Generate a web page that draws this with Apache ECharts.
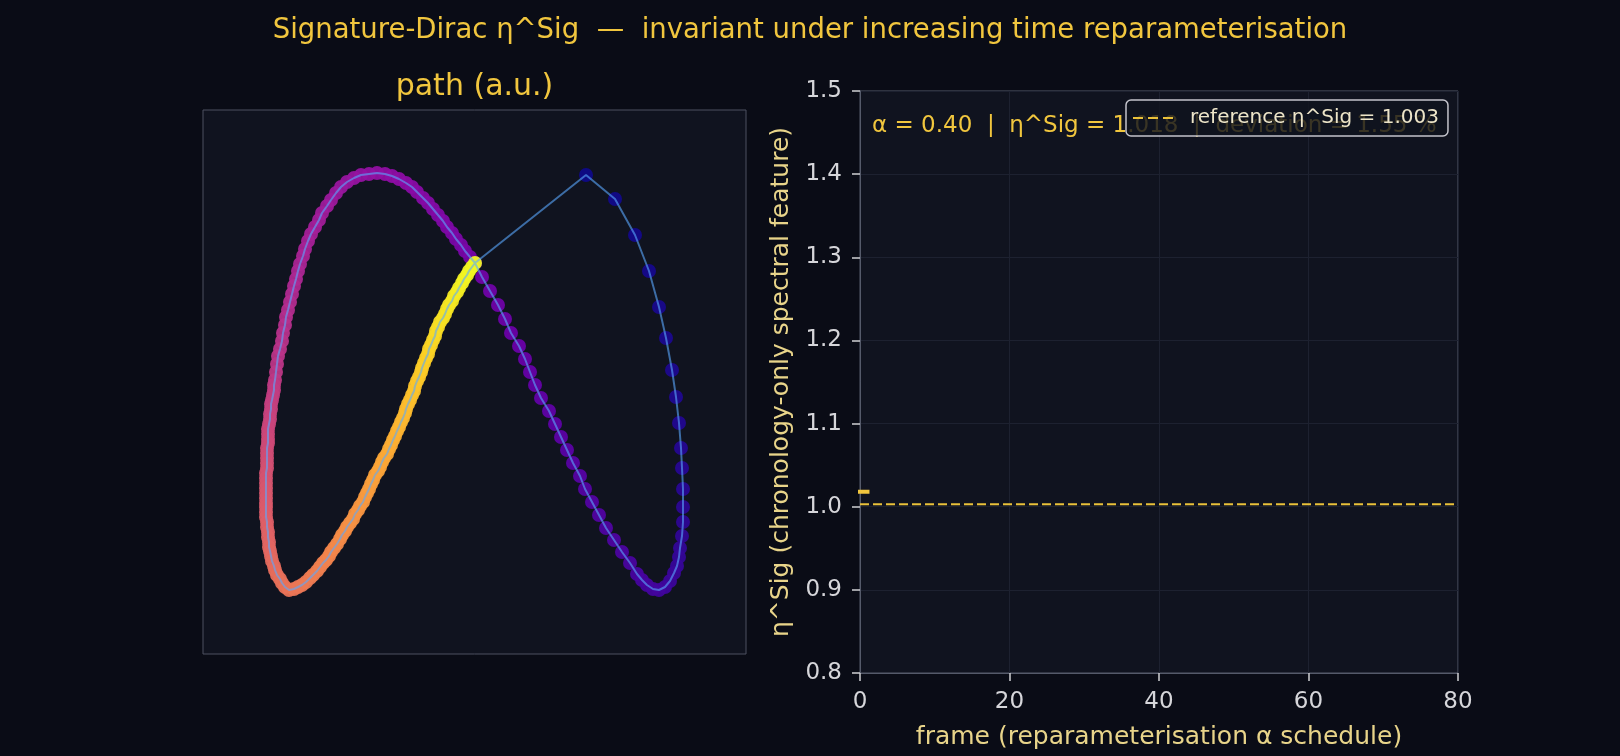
<!DOCTYPE html>
<html>
<head>
<meta charset="utf-8">
<title>Signature-Dirac η^Sig</title>
<script src="https://cdn.jsdelivr.net/npm/echarts@6/dist/echarts.min.js"></script>
<style>
html, body { margin: 0; padding: 0; background: #0a0c16; }
#chart { width: 1620px; height: 756px; }
</style>
</head>
<body>
<div id="chart"></div>
<script>
// path samples (a.u.), in sample order; colour = sample index
var sparseStart = [[0.00,1.19],[1.11,2.07],[1.40,1.83],[1.60,1.47],[1.74,1.11],[1.84,0.75],[1.91,0.44],[1.97,0.12],[2.01,-0.15],[2.04,-0.41],[2.06,-0.66],[2.07,-0.86],[2.08,-1.07],[2.08,-1.25],[2.08,-1.40],[2.07,-1.54],[2.05,-1.66],[2.04,-1.75],[2.02,-1.84]];
var loopRight = [[1.99,-1.91],[1.95,-1.99],[1.90,-2.05],[1.84,-2.08],[1.78,-2.07],[1.72,-2.03],[1.67,-1.98],[1.62,-1.92]];
var diagDown = [[1.55,-1.81],[1.47,-1.70],[1.39,-1.58],[1.31,-1.46],[1.24,-1.33],[1.17,-1.20],[1.10,-1.07],[1.05,-0.94],[0.98,-0.81],[0.92,-0.68],[0.86,-0.55],[0.80,-0.42],[0.74,-0.29],[0.66,-0.16],[0.60,-0.03],[0.55,0.10],[0.50,0.23],[0.44,0.36],[0.36,0.49],[0.30,0.63],[0.23,0.77],[0.15,0.91],[0.07,1.05],[0.00,1.19]];
var arcTop = [[-0.05,1.25],[-0.10,1.31],[-0.14,1.37],[-0.19,1.43],[-0.23,1.49],[-0.28,1.55],[-0.32,1.61],[-0.37,1.67],[-0.42,1.73],[-0.47,1.79],[-0.52,1.84],[-0.58,1.90],[-0.63,1.95],[-0.69,1.99],[-0.76,2.03],[-0.83,2.06],[-0.90,2.08],[-0.98,2.09]];
var arcLeft = [[-1.06,2.08],[-1.14,2.07],[-1.21,2.04],[-1.28,2.00],[-1.34,1.95],[-1.39,1.89],[-1.44,1.82],[-1.48,1.76],[-1.53,1.69],[-1.56,1.62],[-1.60,1.55],[-1.64,1.48],[-1.67,1.41],[-1.70,1.33],[-1.72,1.26],[-1.75,1.18],[-1.77,1.11],[-1.79,1.03],[-1.81,0.96],[-1.83,0.88],[-1.85,0.80],[-1.87,0.72],[-1.89,0.65],[-1.90,0.57],[-1.92,0.49],[-1.93,0.41],[-1.95,0.33],[-1.97,0.26],[-1.98,0.18],[-1.99,0.10],[-2.00,0.02]];
var sideLeft = [[-2.01,-0.03],[-2.01,-0.08],[-2.02,-0.13],[-2.03,-0.18],[-2.04,-0.22],[-2.04,-0.27],[-2.05,-0.32],[-2.05,-0.37],[-2.06,-0.42],[-2.07,-0.47],[-2.07,-0.52],[-2.07,-0.57],[-2.07,-0.61],[-2.08,-0.66],[-2.08,-0.71],[-2.08,-0.76],[-2.08,-0.81],[-2.08,-0.86],[-2.09,-0.91],[-2.09,-0.96],[-2.09,-1.01],[-2.09,-1.06],[-2.09,-1.11],[-2.09,-1.16],[-2.09,-1.21],[-2.09,-1.25],[-2.09,-1.30],[-2.09,-1.35],[-2.08,-1.40],[-2.08,-1.45],[-2.07,-1.50],[-2.07,-1.55],[-2.06,-1.60],[-2.06,-1.65],[-2.05,-1.69],[-2.04,-1.74],[-2.03,-1.79],[-2.01,-1.84],[-2.00,-1.88],[-1.98,-1.93],[-1.95,-1.97],[-1.93,-2.01],[-1.90,-2.05],[-1.86,-2.08]];
var diagUp = [[-1.81,-2.07],[-1.77,-2.05],[-1.73,-2.03],[-1.69,-2.00],[-1.65,-1.96],[-1.62,-1.93],[-1.58,-1.89],[-1.55,-1.85],[-1.52,-1.81],[-1.49,-1.78],[-1.46,-1.74],[-1.44,-1.70],[-1.41,-1.66],[-1.38,-1.62],[-1.35,-1.57],[-1.33,-1.53],[-1.30,-1.49],[-1.28,-1.45],[-1.25,-1.41],[-1.22,-1.37],[-1.20,-1.32],[-1.17,-1.28],[-1.15,-1.24],[-1.12,-1.20],[-1.10,-1.15],[-1.08,-1.11],[-1.06,-1.07],[-1.04,-1.02],[-1.02,-0.98],[-1.00,-0.93],[-0.97,-0.89],[-0.95,-0.85],[-0.93,-0.80],[-0.91,-0.76],[-0.88,-0.72],[-0.86,-0.67],[-0.84,-0.63],[-0.82,-0.58],[-0.80,-0.54],[-0.78,-0.49],[-0.76,-0.45],[-0.74,-0.40],[-0.72,-0.36],[-0.70,-0.31],[-0.69,-0.27],[-0.67,-0.22],[-0.65,-0.18],[-0.63,-0.13],[-0.61,-0.09],[-0.60,-0.04],[-0.58,0.01],[-0.56,0.05],[-0.54,0.10],[-0.53,0.14],[-0.51,0.19],[-0.49,0.24],[-0.47,0.28],[-0.46,0.33],[-0.44,0.37],[-0.42,0.42],[-0.40,0.46],[-0.39,0.51],[-0.37,0.55],[-0.35,0.60],[-0.32,0.64],[-0.30,0.68],[-0.28,0.73],[-0.26,0.77],[-0.23,0.81],[-0.21,0.86],[-0.18,0.90],[-0.16,0.94],[-0.13,0.99],[-0.11,1.03],[-0.08,1.07],[-0.06,1.11],[-0.03,1.15],[0.00,1.19]];

// right panel
var frames = [0, 1];
var etaSig = [1.018, 1.018];
var etaRef = 1.003;
var frameRange = [0, 80];
var alphaNow = "0.40";
var deviationPct = "1.55";

var pathPts = [].concat(sparseStart, loopRight, diagDown, arcTop, arcLeft, sideLeft, diagUp);
var plasma = ['#0d0887','#41049d','#6a00a8','#8f0da4','#b12a90','#cc4778','#e16462','#f2844b','#fca636','#fcce25','#f0f921'];
var FONT = '"DejaVu Sans", Verdana, sans-serif';
var gold = '#f1c63e';
var khaki = '#e8d48a';
var refName = 'reference η^Sig = ' + etaRef.toFixed(3);

var chart = echarts.init(document.getElementById('chart'));
chart.setOption({
  backgroundColor: '#0a0c16',
  animation: false,
  textStyle: { fontFamily: FONT },
  grid: [
    { left: 203, top: 110, width: 543, height: 544, show: true, backgroundColor: '#10131f', borderColor: '#4c5060', borderWidth: 1 },
    { left: 860, top: 91, width: 598, height: 582, show: true, backgroundColor: '#10131f', borderColor: '#555a6a', borderWidth: 1 }
  ],
  xAxis: [
    { gridIndex: 0, type: 'value', min: -2.72, max: 2.71, show: false },
    {
      gridIndex: 1, type: 'value', min: frameRange[0], max: frameRange[1], interval: 20,
      axisLine: { show: true, onZero: false, lineStyle: { color: '#555a6a' } },
      axisTick: { show: true, length: 8, lineStyle: { color: '#cfcfd4', width: 1.5 } },
      axisLabel: { color: '#d6d6da', fontSize: 23, margin: 18, fontFamily: FONT },
      splitLine: { show: true, lineStyle: { color: '#1d2130', width: 1 } },
      name: 'frame (reparameterisation α schedule)', nameLocation: 'middle', nameGap: 52,
      nameTextStyle: { color: khaki, fontSize: 25, fontFamily: FONT }
    }
  ],
  yAxis: [
    { gridIndex: 0, type: 'value', min: -2.72, max: 2.72, show: false },
    {
      gridIndex: 1, type: 'value', min: 0.8, max: 1.5, interval: 0.1,
      axisLine: { show: true, onZero: false, lineStyle: { color: '#555a6a' } },
      axisTick: { show: true, length: 8, lineStyle: { color: '#cfcfd4', width: 1.5 } },
      axisLabel: { color: '#d6d6da', fontSize: 23, margin: 18, fontFamily: FONT,
        formatter: function (v) { return v.toFixed(1); } },
      splitLine: { show: true, lineStyle: { color: '#1d2130', width: 1 } },
      name: 'η^Sig (chronology-only spectral feature)', nameLocation: 'middle', nameGap: 66,
      nameTextStyle: { color: khaki, fontSize: 25, fontFamily: FONT }
    }
  ],
  visualMap: [{
    type: 'continuous', show: false, seriesIndex: 0, dimension: 2,
    min: 0, max: pathPts.length - 1, inRange: { color: plasma }
  }],
  legend: {
    data: [{ name: refName, icon: 'path://M0,0H10V2H0Z M15,0H25V2H15Z M30,0H40V2H30Z' }],
    left: 1126, top: 100, z: 10,
    backgroundColor: 'rgba(16,19,31,0.82)', borderColor: '#c4c4cc', borderWidth: 1.5, borderRadius: 5,
    padding: [8, 9, 8, 7], itemWidth: 40, itemHeight: 2.5,
    textStyle: { color: '#ece4c8', fontSize: 20, fontFamily: FONT, padding: [0, 0, 0, 12] }
  },
  graphic: [
    { type: 'text', x: 810, y: 31, z: 5, style: { text: 'Signature-Dirac η^Sig  —  invariant under increasing time reparameterisation',
      fill: gold, font: '27.5px ' + FONT, align: 'center', verticalAlign: 'middle', textAlign: 'center', textVerticalAlign: 'middle' } },
    { type: 'text', x: 474.5, y: 87, z: 5, style: { text: 'path (a.u.)',
      fill: gold, font: '30px ' + FONT, align: 'center', verticalAlign: 'middle', textAlign: 'center', textVerticalAlign: 'middle' } },
    { type: 'text', x: 872, y: 126.5, z: 1, style: { text: 'α = ' + alphaNow + '  |  η^Sig = ' + etaSig[etaSig.length - 1].toFixed(3) + '  |  deviation = ' + deviationPct + ' %',
      fill: gold, font: '23px ' + FONT, align: 'left', verticalAlign: 'middle', textAlign: 'left', textVerticalAlign: 'middle' } }
  ],
  series: [
    {
      type: 'scatter', xAxisIndex: 0, yAxisIndex: 0, z: 2, silent: true,
      symbolSize: 14, itemStyle: { opacity: 0.95 },
      data: pathPts.map(function (p, i) { return [p[0], p[1], i]; })
    },
    {
      type: 'line', xAxisIndex: 0, yAxisIndex: 0, z: 3, silent: true,
      symbol: 'none', showSymbol: false,
      lineStyle: { color: '#5aa9ff', width: 2, opacity: 0.6 },
      data: pathPts
    },
    {
      name: 'η^Sig', type: 'line', xAxisIndex: 1, yAxisIndex: 1, z: 4,
      symbol: 'none', showSymbol: false,
      lineStyle: { color: gold, width: 4, cap: 'square' },
      data: frames.map(function (f, i) { return [f, etaSig[i]]; })
    },
    {
      name: refName, type: 'line', xAxisIndex: 1, yAxisIndex: 1, z: 4,
      symbol: 'none', showSymbol: false,
      itemStyle: { color: '#e9c13a' },
      lineStyle: { color: '#e9c13a', width: 2, type: [9, 4] },
      data: [[frameRange[0], etaRef], [frameRange[1], etaRef]]
    }
  ]
});
</script>
</body>
</html>
